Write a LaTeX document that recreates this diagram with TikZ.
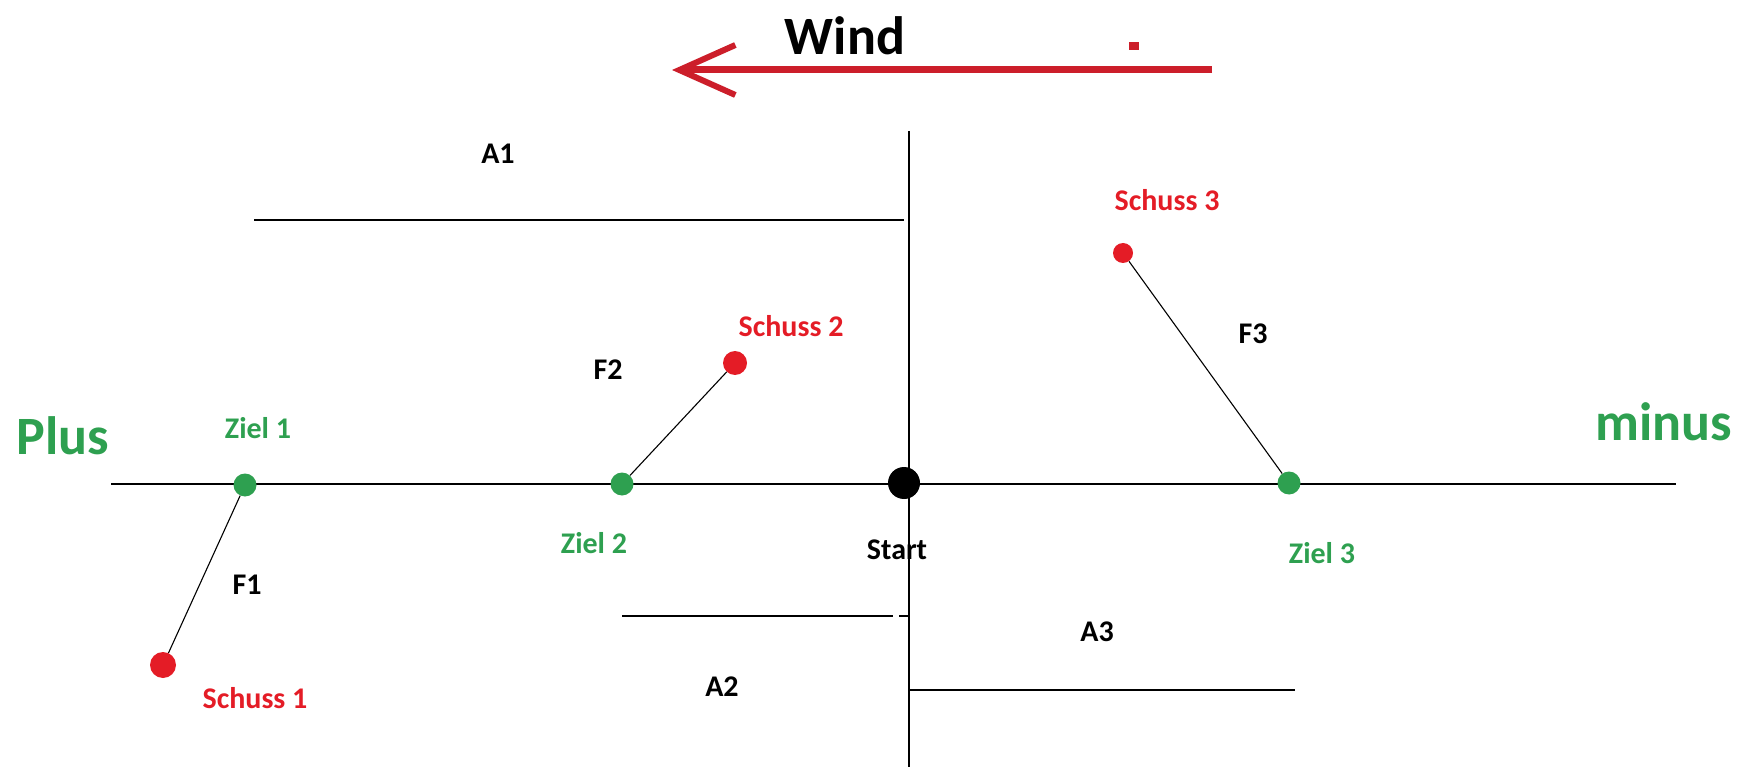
\documentclass[tikz,border=0pt]{standalone}
\usepackage{fontspec}
\setmainfont{Carlito}
\usepackage{tikz}
\usepackage{xcolor}
\usetikzlibrary{arrows.meta}
\definecolor{zielgreen}{RGB}{46,160,80}
\definecolor{schussred}{RGB}{228,28,38}
\definecolor{windred}{RGB}{204,30,42}

\begin{document}
\begin{tikzpicture}[x=1pt,y=-1pt,
  axis/.style={line width=2.4pt},
  miss/.style={line width=1.1pt},
  big/.style={font=\fontsize{54}{60}\selectfont\bfseries,inner sep=0pt},
  lbl/.style={font=\fontsize{30}{34}\selectfont\bfseries,inner sep=0pt},
  zieldot/.style={circle,fill=zielgreen,inner sep=0pt,minimum size=23pt},
  schussdot/.style={circle,fill=schussred,inner sep=0pt,minimum size=#1},
  schussdot/.default=24pt]
\useasboundingbox (0,0) rectangle (1746,767);
\coordinate (windtail) at (1212,70);
\coordinate (windtip) at (672,70);
\draw[windred,line width=7pt,-{Straight Barb[length=56pt,width=50pt,line width=6pt]}] (windtail) -- (windtip);
\node[big] (wind) at (845,36) {Wind};
\node[fill=windred,inner sep=0pt,minimum width=10pt,minimum height=8pt] (speck) at (1134,46) {};
\draw[axis] (111,484) -- (1676,484);
\draw[axis] (909,131) -- (909,767);
\draw[axis] (254,220) -- (904,220);
\draw[axis] (622,616) -- (893,616);
\draw[axis] (899,616) -- (909,616);
\draw[axis] (909,690) -- (1295,690);
\node[big,text=zielgreen] (plus) at (63,436) {Plus};
\node[big,text=zielgreen] (minus) at (1664,422) {minus};
\node[zieldot] (ziel1) at (245,485) {};
\node[zieldot] (ziel2) at (622,484) {};
\node[zieldot] (ziel3) at (1289,483) {};
\node[circle,fill=black,inner sep=0pt,minimum width=28pt,minimum height=32pt] (start) at (904,483) {};
\node[schussdot=26pt] (schuss1) at (163,665) {};
\node[schussdot] (schuss2) at (735,363) {};
\node[schussdot=20pt] (schuss3) at (1123,253) {};
\draw[miss] (ziel1) -- (schuss1);
\draw[miss] (ziel2) -- (schuss2);
\draw[miss] (ziel3) -- (schuss3);
\node[lbl,text=zielgreen] (z1lbl) at (258,428) {Ziel 1};
\node[lbl,text=zielgreen] (z2lbl) at (594,543) {Ziel 2};
\node[lbl,text=zielgreen] (z3lbl) at (1322,553) {Ziel 3};
\node[lbl,text=schussred] (s1lbl) at (255,698) {Schuss 1};
\node[lbl,text=schussred] (s2lbl) at (791,326) {Schuss 2};
\node[lbl,text=schussred] (s3lbl) at (1167,200) {Schuss 3};
\node[lbl] (f1) at (247,585) {F1};
\node[lbl] (f2) at (608,370) {F2};
\node[lbl] (f3) at (1253,334) {F3};
\node[lbl] (a1) at (498,154) {A1};
\node[lbl] (a2) at (722,687) {A2};
\node[lbl] (a3) at (1097,632) {A3};
\node[lbl] (startlbl) at (897,550) {Start};
\end{tikzpicture}
\end{document}
